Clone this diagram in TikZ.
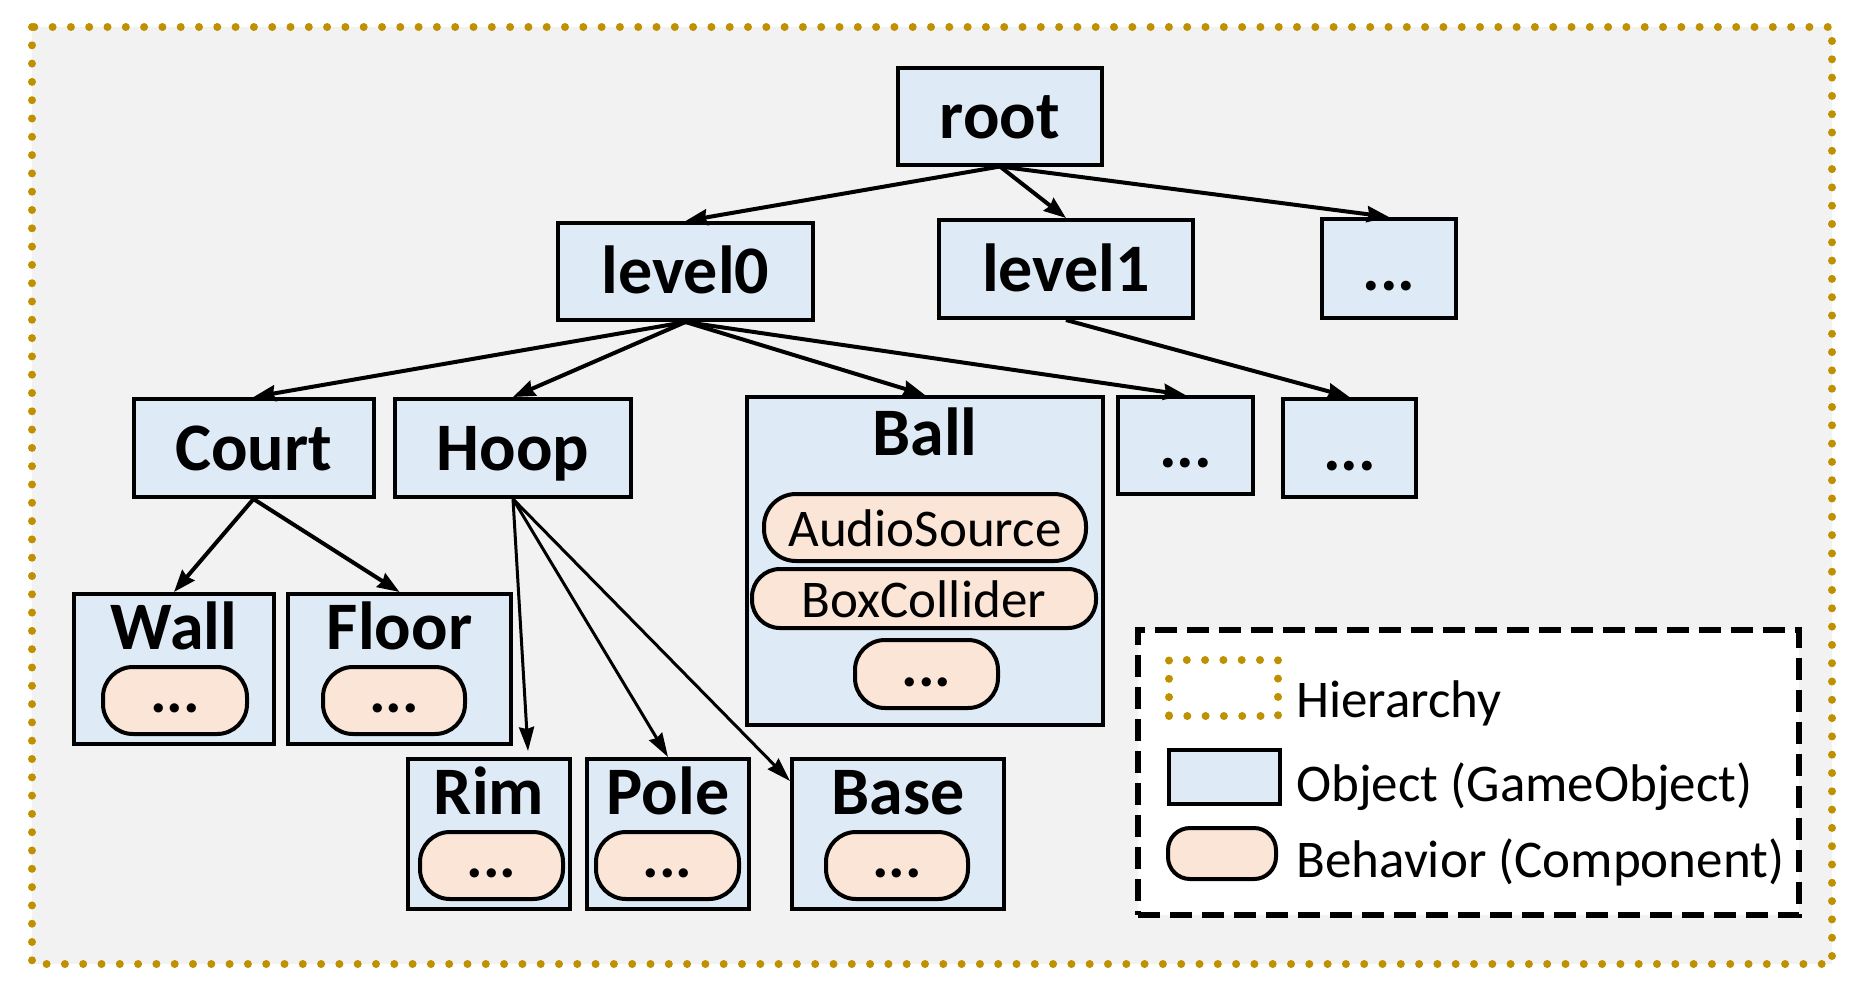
\documentclass[tikz,border=0pt]{standalone}
\usepackage{fontspec}
\setmainfont{Carlito}
\usetikzlibrary{arrows.meta,calc}
\definecolor{bgray}{HTML}{F2F2F2}
\definecolor{objblue}{HTML}{DEEBF7}
\definecolor{behor}{HTML}{FBE5D6}
\definecolor{hgold}{HTML}{BF9000}
\begin{document}
\begin{tikzpicture}[x=0.5pt,y=-0.5pt,
  obj/.style={draw=black,line width=2pt,fill=objblue,inner sep=0pt,text height=22pt,text depth=0pt,font=\fontsize{34}{40}\selectfont\bfseries},
  dotsobj/.style={obj,font=\fontsize{33}{38}\selectfont\bfseries},
  cont/.style={draw=black,line width=2pt,fill=objblue,inner sep=0pt},
  lbl/.style={inner sep=0pt,anchor=base,font=\fontsize{34}{40}\selectfont\bfseries},
  pill/.style={draw=black,line width=2pt,fill=behor,inner sep=0pt,rounded corners=15pt,text height=19pt,text depth=0pt,font=\fontsize{26.5}{30}\selectfont},
  dpill/.style={pill,text height=12pt,font=\fontsize{31}{36}\selectfont\bfseries},
  arr/.style={draw=black,line width=2pt,-{Stealth[length=11pt,width=8pt,inset=1pt]}},
  thinarr/.style={draw=black,line width=1.5pt,-{Stealth[length=12pt,width=7.5pt,inset=1pt]}},
  dotline/.style={draw=hgold,line width=4pt,line cap=round,dash pattern=on 0pt off 9.15pt},
  legtxt/.style={inner sep=0pt,anchor=base west,font=\fontsize{26.5}{30}\selectfont}
]
\useasboundingbox (0,0) rectangle (1858,992);
% hierarchy frame
\fill[bgray] (32,27) rectangle (1832,964);
\draw[dotline] (32,27) rectangle (1832,964);

% objects
\node[obj,minimum width=102pt,minimum height=48.5pt] (root) at (1000,116) {root};
\node[obj,minimum width=127.5pt,minimum height=48.5pt] (level0) at (685.5,271.5) {level0};
\node[obj,minimum width=127pt,minimum height=49pt] (level1) at (1066,269) {level1};
\node[dotsobj,minimum width=67pt,minimum height=49.5pt] (topdots) at (1389,268.5) {...};
\node[obj,minimum width=120pt,minimum height=49pt] (court) at (253.5,448) {Court};
\node[obj,minimum width=118pt,minimum height=49pt] (hoop) at (513,448) {Hoop};
\node[cont,minimum width=178pt,minimum height=164pt] (ball) at (925,561) {};
\node[dotsobj,minimum width=67.5pt,minimum height=48.5pt] (mida) at (1185.5,445.5) {...};
\node[dotsobj,minimum width=66.5pt,minimum height=49pt] (midb) at (1349.5,448) {...};
\node[cont,minimum width=100pt,minimum height=75pt] (wall) at (174,669) {};
\node[cont,minimum width=111.5pt,minimum height=75pt] (floor) at (399.5,669) {};
\node[cont,minimum width=81pt,minimum height=75pt] (rim) at (489,834) {};
\node[cont,minimum width=81pt,minimum height=75pt] (pole) at (668,834) {};
\node[cont,minimum width=106pt,minimum height=75pt] (base) at (898,834) {};

% container labels
\node[lbl] (balllbl) at ($(ball.north)+(0,60)$) {Ball};
\node[lbl] (walllbl) at ($(wall.north)+(0,57)$) {Wall};
\node[lbl] (floorlbl) at ($(floor.north)+(0,57)$) {Floor};
\node[lbl] (rimlbl) at ($(rim.north)+(0,57)$) {Rim};
\node[lbl] (polelbl) at ($(pole.north)+(0,57)$) {Pole};
\node[lbl] (baselbl) at ($(base.north)+(0,57)$) {Base};

% behaviors
\node[pill,minimum width=161pt,minimum height=33.5pt,rounded corners=16pt] (audio) at (925,527.5) {AudioSource};
\node[pill,minimum width=172pt,minimum height=29.5pt,rounded corners=14pt] (box) at (924,598.5) {BoxCollider};
\node[dpill,minimum width=71.5pt,minimum height=34pt] (balldots) at (926.5,674) {...};
\node[dpill,minimum width=72pt,minimum height=33.5pt] (walldots) at (175,700.5) {...};
\node[dpill,minimum width=71pt,minimum height=33.5pt] (floordots) at (394,700.5) {...};
\node[dpill,minimum width=71.5pt,minimum height=33.5pt] (rimdots) at (491.5,865.5) {...};
\node[dpill,minimum width=71.5pt,minimum height=33.5pt] (poledots) at (667.5,865.5) {...};
\node[dpill,minimum width=71pt,minimum height=33.5pt] (basedots) at (897,865.5) {...};

% connectors
\draw[arr] (root.south) -- (level0.north);
\draw[arr] (root.south) -- (level1.north);
\draw[arr] (root.south) -- (topdots.north);
\draw[arr] (level0.south) -- (court.north);
\draw[arr] (level0.south) -- (hoop.north);
\draw[arr] (level0.south) -- (ball.north);
\draw[arr] (level0.south) -- (mida.north);
\draw[arr] (level1.south) -- (midb.north);
\draw[arr] (court.south) -- (wall.north);
\draw[arr] (court.south) -- (floor.north);
\draw[thinarr] (hoop.south) -- ($(rim.north)+(39,-6)$);
\draw[thinarr] (hoop.south) -- (pole.north);
\draw[thinarr] (hoop.south) -- ($(base.north west)+(0,24)$);

% legend
\node[draw=black,fill=white,line width=2.6pt,dash pattern=on 11pt off 5pt,inner sep=0pt,minimum width=330.5pt,minimum height=142.5pt] (legend) at (1468.5,772.5) {};
\node[dotline,inner sep=0pt,minimum width=54.5pt,minimum height=28pt] (lhier) at (1223.5,688) {};
\node[cont,minimum width=55.5pt,minimum height=27pt] (lobj) at (1224.5,777) {};
\node[pill,rounded corners=11pt,minimum width=54pt,minimum height=25.5pt] (lbeh) at (1222,853.5) {};
\node[legtxt] (thier) at (1296,717) {Hierarchy};
\node[legtxt] (tobj) at (1296,801) {Object (GameObject)};
\node[legtxt] (tbeh) at (1296,877) {Behavior (Component)};
\end{tikzpicture}
\end{document}
